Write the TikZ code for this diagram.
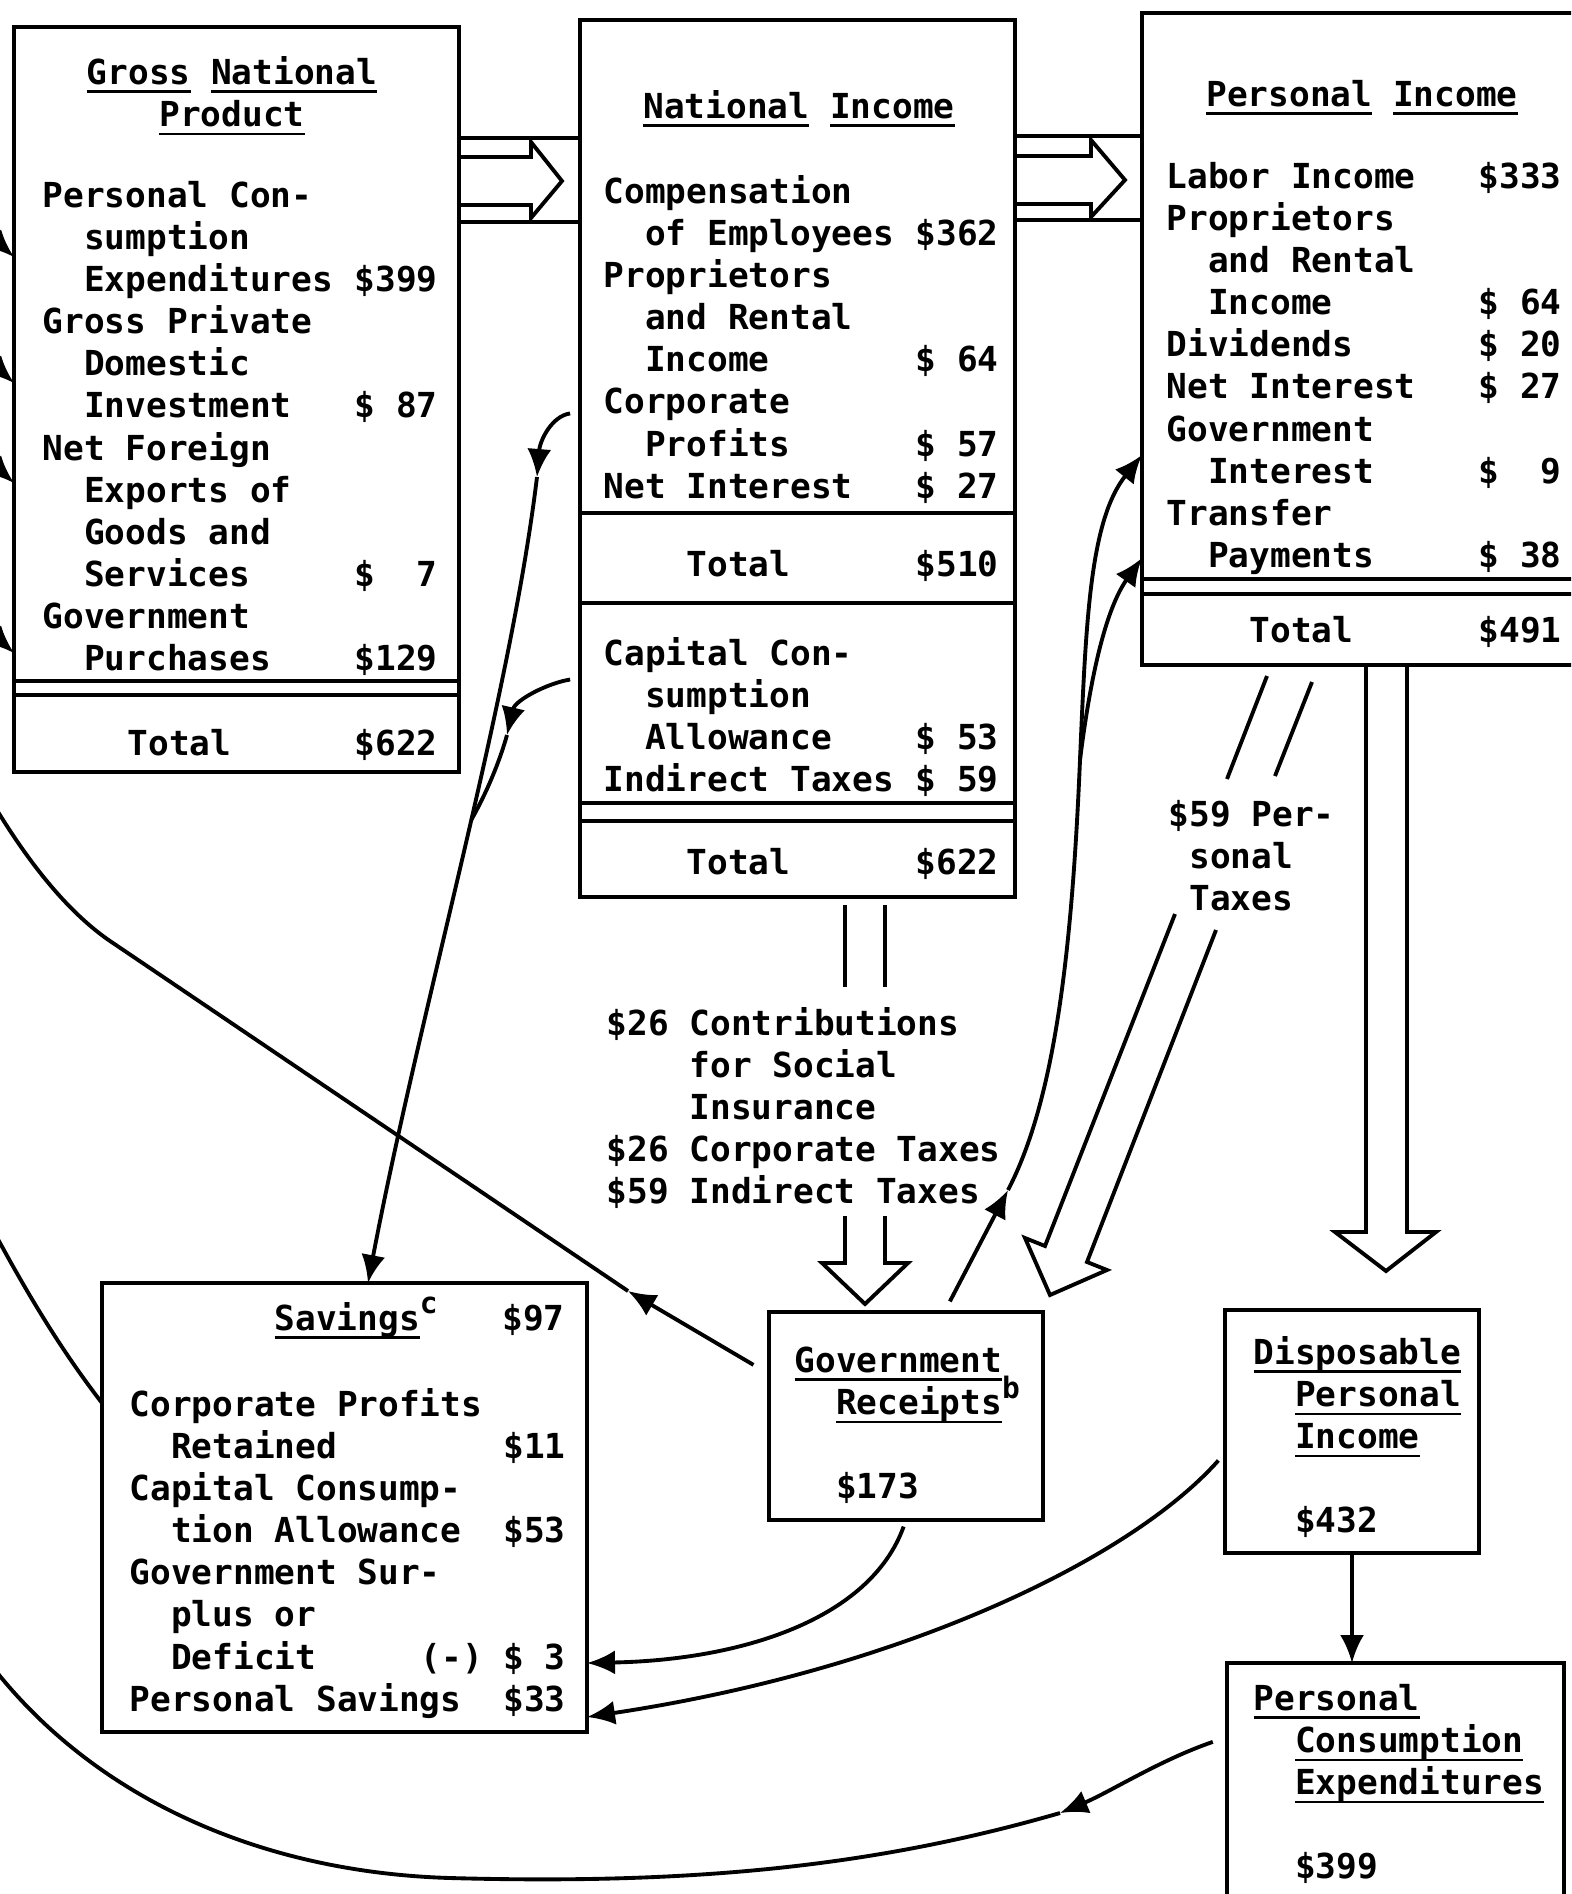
\documentclass[tikz,border=0pt]{standalone}
\usepackage{fontspec}
\newfontfamily\twfont{DejaVu Sans Mono}
\usetikzlibrary{arrows.meta,calc}

\newcommand{\ind}{\hspace*{1.204em}}
\newcommand{\indd}{\hspace*{2.408em}}
\newcommand{\indi}{\hspace*{0.602em}}
\newcommand{\note}[1]{\raisebox{4.6pt}[0pt][0pt]{\fontsize{8.4}{8.4}\selectfont #1}}
\newsavebox{\ulbox}
\newcommand{\uw}[1]{\sbox{\ulbox}{#1}\rlap{\rule[-2.5pt]{\wd\ulbox}{0.7pt}}\usebox{\ulbox}}

\tikzset{
  acct/.style={draw,line width=1.1pt,inner sep=0pt,outer sep=0pt,anchor=north west},
  txt/.style={font=\twfont\bfseries\fontsize{9.8}{12}\selectfont,inner sep=0pt,anchor=base west},
  ttl/.style={txt,anchor=base},
  divider/.style={line width=1.1pt},
  hollow/.style={line width=1.1pt,line join=miter},
  flow/.style={line width=1.1pt},
  arr/.style={flow,-{Latex[length=2.8mm,width=2.4mm]}}
}

\begin{document}
\begin{tikzpicture}[x=0.1mm,y=-0.1mm]
  \useasboundingbox (0,0) rectangle (1571,1894);
  \clip (0,0) rectangle (1571,1894);

  % account boxes
  \node[acct, minimum width=4.45cm, minimum height=7.45cm] (gnp) at (14,27) {};
  \node[acct, minimum width=4.35cm, minimum height=8.77cm] (ni) at (580,20) {};
  \node[acct, minimum width=4.60cm, minimum height=6.52cm] (pi) at (1142,13) {};
  \node[acct, minimum width=4.85cm, minimum height=4.49cm] (sav) at (102,1283) {};
  \node[acct, minimum width=2.74cm, minimum height=2.08cm] (gov) at (769,1312) {};
  \node[acct, minimum width=2.54cm, minimum height=2.43cm] (dpi) at (1225,1310) {};
  \node[acct, minimum width=3.37cm, minimum height=3.00cm] (pce) at (1227,1663) {};

  % rules inside the boxes
  \draw[divider] (gnp.west |- 0,681) -- (gnp.east |- 0,681);
  \draw[divider] (gnp.west |- 0,695) -- (gnp.east |- 0,695);
  \draw[divider] (ni.west |- 0,513) -- (ni.east |- 0,513);
  \draw[divider] (ni.west |- 0,603) -- (ni.east |- 0,603);
  \draw[divider] (ni.west |- 0,803) -- (ni.east |- 0,803);
  \draw[divider] (ni.west |- 0,821) -- (ni.east |- 0,821);
  \draw[divider] (pi.west |- 0,579) -- (pi.east |- 0,579);
  \draw[divider] (pi.west |- 0,594) -- (pi.east |- 0,594);

  % Gross National Product
  \node[ttl] (gnptitle) at (232,84) {\begin{tabular}[t]{@{}c@{}}\uw{Gross} \uw{National}\\ \uw{Product}\end{tabular}};
  \node[txt] (gnpitems) at (42,207) {\begin{tabular*}{3.95cm}[t]{@{}l@{\extracolsep{\fill}}r@{}}
    Personal Con- & \\
    \ind sumption & \\
    \ind Expenditures & \$399\\
    Gross Private & \\
    \ind Domestic & \\
    \ind Investment & \$~87\\
    Net Foreign & \\
    \ind Exports of & \\
    \ind Goods and & \\
    \ind Services & \$~~7\\
    Government & \\
    \ind Purchases & \$129
  \end{tabular*}};
  \node[txt] (gnptotal) at (127,755) {\begin{tabular*}{3.1cm}[t]{@{}l@{\extracolsep{\fill}}r@{}}Total & \$622\end{tabular*}};

  % National Income
  \node[ttl] (nititle) at (799,118) {\uw{National} \uw{Income}};
  \node[txt] (niitems) at (603,203) {\begin{tabular*}{3.95cm}[t]{@{}l@{\extracolsep{\fill}}r@{}}
    Compensation & \\
    \ind of Employees & \$362\\
    Proprietors & \\
    \ind and Rental & \\
    \ind Income & \$~64\\
    Corporate & \\
    \ind Profits & \$~57\\
    Net Interest & \$~27
  \end{tabular*}};
  \node[txt] (nitotal) at (686,576) {\begin{tabular*}{3.12cm}[t]{@{}l@{\extracolsep{\fill}}r@{}}Total & \$510\end{tabular*}};
  \node[txt] (nicap) at (603,665) {\begin{tabular*}{3.95cm}[t]{@{}l@{\extracolsep{\fill}}r@{}}
    Capital Con- & \\
    \ind sumption & \\
    \ind Allowance & \$~53\\
    Indirect Taxes & \$~59
  \end{tabular*}};
  \node[txt] (nigross) at (686,874) {\begin{tabular*}{3.12cm}[t]{@{}l@{\extracolsep{\fill}}r@{}}Total & \$622\end{tabular*}};

  % Personal Income
  \node[ttl] (pititle) at (1362,106) {\uw{Personal} \uw{Income}};
  \node[txt] (piitems) at (1166,188) {\begin{tabular*}{3.95cm}[t]{@{}l@{\extracolsep{\fill}}r@{}}
    Labor Income & \$333\\
    Proprietors & \\
    \ind and Rental & \\
    \ind Income & \$~64\\
    Dividends & \$~20\\
    Net Interest & \$~27\\
    Government & \\
    \ind Interest & \$~~9\\
    Transfer & \\
    \ind Payments & \$~38
  \end{tabular*}};
  \node[txt] (pitotal) at (1249,642) {\begin{tabular*}{3.12cm}[t]{@{}l@{\extracolsep{\fill}}r@{}}Total & \$491\end{tabular*}};

  % Savings
  \node[txt] (savtitle) at (274,1330) {\begin{tabular*}{2.9cm}[t]{@{}l@{\extracolsep{\fill}}r@{}}\uw{Savings}\note{c} & \$97\end{tabular*}};
  \node[txt] (savitems) at (129,1416) {\begin{tabular*}{4.36cm}[t]{@{}l@{\extracolsep{\fill}}r@{}}
    Corporate Profits & \\
    \ind Retained & \$11\\
    Capital Consump- & \\
    \ind tion Allowance & \$53\\
    Government Sur- & \\
    \ind plus or & \\
    \ind Deficit & \llap{(-)~}\$~3\\
    Personal Savings & \$33
  \end{tabular*}};

  % small accounts
  \node[txt] (govtext) at (794,1372) {\begin{tabular}[t]{@{}l@{}}\uw{Government}\\ \ind\uw{Receipts}\note{b}\\ \\ \ind\$173\end{tabular}};
  \node[txt] (dpitext) at (1253,1364) {\begin{tabular}[t]{@{}l@{}}\uw{Disposable}\\ \ind\uw{Personal}\\ \ind\uw{Income}\\ \\ \ind\$432\end{tabular}};
  \node[txt] (pcetext) at (1253,1710) {\begin{tabular}[t]{@{}l@{}}\uw{Personal}\\ \ind\uw{Consumption}\\ \ind\uw{Expenditures}\\ \\ \ind\$399\end{tabular}};

  % flow labels
  \node[txt] (contrib) at (606,1035) {\begin{tabular}[t]{@{}l@{}}\$26 Contributions\\ \indd for Social\\ \indd Insurance\\ \$26 Corporate Taxes\\ \$59 Indirect Taxes\end{tabular}};
  \node[txt] (perstax) at (1168,826) {\begin{tabular}[t]{@{}l@{}}\$59 Per-\\ \indi sonal\\ \indi Taxes\end{tabular}};

  % hollow arrows
  \draw[hollow] (gnp.east |- 0,138) -- (ni.west |- 0,138);
  \draw[hollow] (gnp.east |- 0,222) -- (ni.west |- 0,222);
  \draw[hollow] (gnp.east |- 0,157) -- (531,157) -- (531,142) -- (562,181) -- (531,218) -- (531,205) -- (gnp.east |- 0,205);
  \draw[hollow] (ni.east |- 0,136) -- (pi.west |- 0,136);
  \draw[hollow] (ni.east |- 0,220) -- (pi.west |- 0,220);
  \draw[hollow] (ni.east |- 0,156) -- (1091,156) -- (1091,140) -- (1125,180) -- (1091,217) -- (1091,204) -- (ni.east |- 0,204);
  \draw[hollow] (1366,0 |- pi.south) -- (1366,1232) -- (1335,1232) -- (1386,1271) -- (1436,1232) -- (1407,1232) -- (1407,0 |- pi.south);
  \draw[hollow] (845,905) -- (845,987);
  \draw[hollow] (885,905) -- (885,987);
  \draw[hollow] (845,1216) -- (845,1263) -- (822,1263) -- (865,1304) -- (908,1263) -- (885,1263) -- (885,1216);
  \draw[hollow] (1267,676) -- (1227,779);
  \draw[hollow] (1312,682) -- (1275,776);
  \draw[hollow] (1175,914) -- (1045,1246) -- (1025,1238) -- (1050,1295) -- (1107,1270) -- (1087,1262) -- (1216,930);

  % free ends beyond the left edge
  \coordinate (in1) at (-25,222);
  \coordinate (in2) at (-25,348);
  \coordinate (in3) at (-25,448);
  \coordinate (in4) at (-25,618);
  \coordinate (off9) at (-20,1650);
  \coordinate (off10) at (-15,790);
  \coordinate (off11) at (-15,1215);

  % bends and arrow points on the flows
  \coordinate (t5a) at (537,477);
  \coordinate (t5b) at (507,735);
  \coordinate (g6) at ($(gov.north west)!0.64!(gov.north east)$);
  \coordinate (t6) at (1008,1190);
  \coordinate (b6) at (1080,760);
  \coordinate (m9) at (1060,1813);
  \coordinate (k9) at (450,1878);
  \coordinate (m10) at (628,1291);
  \coordinate (k10) at (110,941);

  % flows into the product account
  \draw[arr] (in1) -- (gnp.west |- 0,257);
  \draw[arr] (in2) -- (gnp.west |- 0,383);
  \draw[arr] (in3) -- (gnp.west |- 0,483);
  \draw[arr] (in4) -- (gnp.west |- 0,653);

  % corporate profits and capital consumption to savings
  \draw[arr, shorten <=1mm] (ni.west |- 0,412) .. controls (552,416) and (540,440) .. (t5a);
  \draw[arr] (t5a) .. controls (510,700) and (420,1010) .. coordinate[pos=0.45] (m5) (368,0 |- sav.north);
  \draw[arr, shorten <=1mm] (ni.west |- 0,678) .. controls (548,683) and (515,700) .. (t5b);
  \draw[flow] (t5b) .. controls (500,760) and (488,790) .. (m5);

  % government interest and transfers
  \draw[arr, shorten <=1.2mm] (g6) -- (t6);
  \draw[arr] (t6) .. controls (1055,1100) and (1072,950) .. (b6) .. controls (1086,620) and (1090,520) .. (pi.west |- 0,455);
  \draw[arr] (b6) .. controls (1090,680) and (1105,610) .. (pi.west |- 0,558);

  % to savings
  \draw[arr, shorten <=0.7mm] (gov.south) .. controls (870,1620) and (740,1660) .. (sav.east |- 0,1663);
  \draw[arr, shorten <=1mm] (dpi.west |- 0,1453) .. controls (1130,1560) and (900,1670) .. (sav.east |- 0,1717);

  % disposable income to consumption
  \draw[arr] (dpi.south) -- (dpi.south |- pce.north);

  % loops leaving the left edge
  \draw[arr, shorten <=1.5mm] (pce.west |- 0,1737) .. controls (1160,1760) and (1110,1792) .. (m9);
  \draw[flow] (m9) .. controls (880,1865) and (700,1885) .. (k9) .. controls (250,1872) and (80,1790) .. (off9);
  \draw[arr, shorten <=1.8mm] (gov.west |- 0,1374) -- (m10);
  \draw[flow] (m10) -- (k10) .. controls (72,915) and (30,868) .. (off10);
  \draw[flow] (sav.west |- 0,1403) .. controls (65,1355) and (30,1300) .. (off11);
\end{tikzpicture}
\end{document}
